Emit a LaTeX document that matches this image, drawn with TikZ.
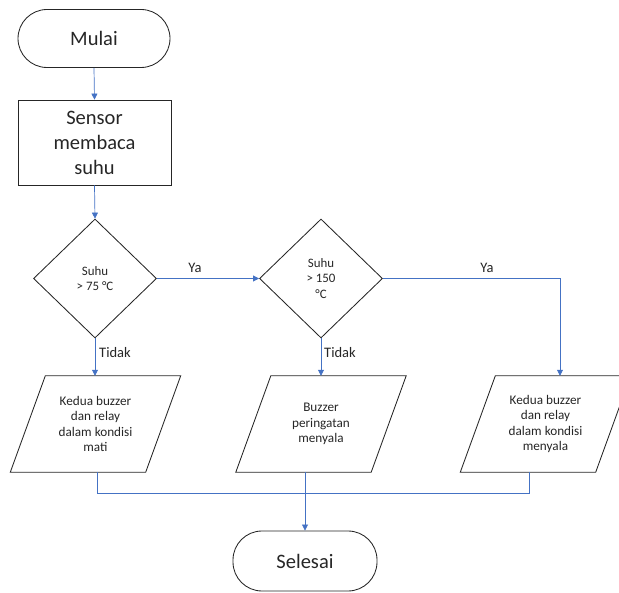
\documentclass[tikz,border=0pt]{standalone}
\usepackage{fontspec}
\setmainfont{Carlito}
\usetikzlibrary{shapes.geometric,arrows.meta}
\definecolor{conn}{HTML}{4472C4}
\definecolor{txt}{HTML}{262626}
\tikzset{
  outl/.style={draw=black!85, line width=0.85pt},
  base/.style={outl, text=txt, align=center, inner sep=0pt},
  term/.style={base, rectangle, rounded corners=29pt, font=\fontsize{20.5}{25}\selectfont},
  procbox/.style={base, rectangle, font=\fontsize{20.5}{25}\selectfont},
  decision/.style={base, diamond, minimum width=123pt, minimum height=119pt, font=\fontsize{12.9}{15.6}\selectfont},
  iobox/.style={text=txt, align=center, inner sep=0pt, rectangle, minimum width=135pt, minimum height=96pt, font=\fontsize{13.2}{15.5}\selectfont},
  conline/.style={draw=conn, line width=0.7pt},
  conarrow/.style={conline, -{Triangle[length=6pt,width=6pt]}},
  lbl/.style={text=txt, inner sep=0pt, font=\fontsize{14.5}{17}\selectfont},
}
\begin{document}
\begin{tikzpicture}[x=1pt,y=-1pt]
\useasboundingbox (0,0) rectangle (619,593);
\node[term, minimum width=152pt, minimum height=58pt] (mulai) at (94,38.5) {Mulai};
\node[procbox, minimum width=153pt, minimum height=85pt] (sensor) at (94.5,142.5) {Sensor\\membaca\\suhu};
\node[decision] (d1) at (95,278.5) {Suhu\\> 75 °C};
\node[decision] (d2) at (321,278.5) {Suhu\\> 150\\°C};
\node[iobox] (p1) at (95.5,424) {Kedua buzzer\\dan relay\\dalam kondisi\\mati};
\node[iobox] (p2) at (321,424) {Buzzer\\peringatan\\menyala};
\node[iobox] (p3) at (545.5,424) {Kedua buzzer\\dan relay\\dalam kondisi\\menyala};
\foreach \p in {p1,p2,p3}{
  \draw[outl] ([xshift=-17.5pt]\p.south west) -- ([xshift=17.5pt]\p.north west)
    -- ([xshift=17.5pt]\p.north east) -- ([xshift=-17.5pt]\p.south east) -- cycle;
}
\node[term, minimum width=144pt, minimum height=60pt] (selesai) at (305,561) {Selesai};
\coordinate (jn) at (0,493);
\coordinate (p1out) at (97,0);
\coordinate (p3out) at (529,0);
\coordinate (p3in) at (560,0);

\draw[conarrow] (mulai.south) -- (sensor.north);
\draw[conarrow] (sensor.south) -- (d1.north);
\draw[conarrow] (d1.east) -- (d2.west);
\node[lbl] (ya1) at (195,268) {Ya};
\draw[conarrow] (d2.east) -| (p3in |- p3.north);
\node[lbl] (ya2) at (487,268) {Ya};
\draw[conarrow] (d1.south) -- (d1.south |- p1.north);
\node[lbl, anchor=west] (t1) at (99,353) {Tidak};
\draw[conarrow] (d2.south) -- (d2.south |- p2.north);
\node[lbl, anchor=west] (t2) at (324,353) {Tidak};
\draw[conline] (p1out |- p1.south) -- (p1out |- jn) -- (p3out |- jn) -- (p3out |- p3.south);
\draw[conarrow] (selesai |- p2.south) -- (selesai.north);
\end{tikzpicture}
\end{document}
